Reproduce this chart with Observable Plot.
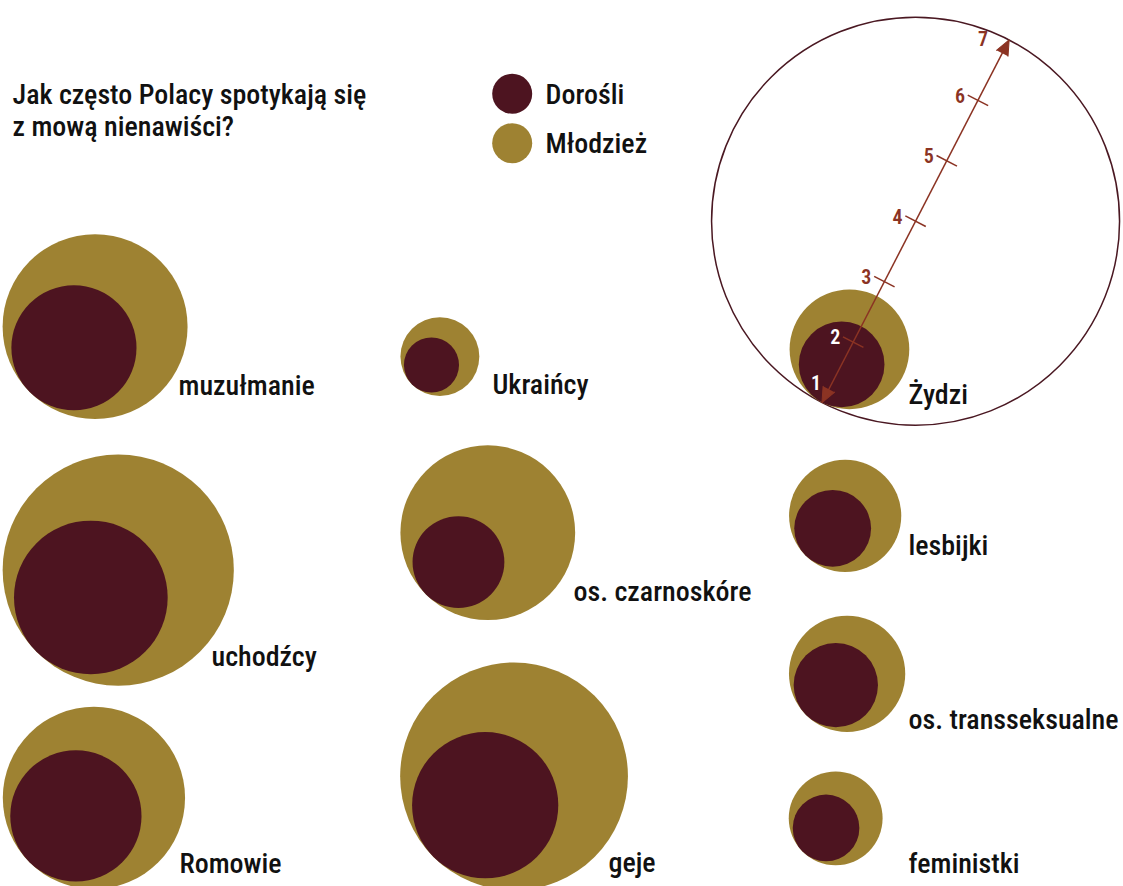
<!DOCTYPE html>
<html><head><meta charset="utf-8">
<script src="https://cdn.jsdelivr.net/npm/d3@7"></script>
<script src="https://cdn.jsdelivr.net/npm/@observablehq/plot@0.6"></script>
<style>
body{margin:0;background:#fff}
svg{display:block}
</style>
</head><body><div id="chart"></div>
<script>
// ---- data ----
const categories = ["muzułmanie","uchodźcy","Romowie","Ukraińcy","os. czarnoskóre","geje","Żydzi","lesbijki","os. transseksualne","feministki"];
const adults = [2.84, 3.26, 2.93, 1.81, 2.35, 3.15, 2.26, 2.13, 2.24, 1.98];
const youth  = [3.72, 4.40, 3.68, 2.16, 3.57, 4.35, 2.76, 2.65, 2.71, 2.38];
const series = ["Dorośli", "Młodzież"];
const scaleTicks = [1, 2, 3, 4, 5, 6, 7];
const titleLines = ["Jak często Polacy spotykają się", "z mową nienawiści?"];

// ---- layout (positions & styles) ----
const W = 1123, H = 886;
const FONT = "'Roboto Condensed', 'Liberation Sans Narrow', sans-serif";
const colors = ["#4d1420", "#9e8232"];
const arrowColor = "#8b3323";
const keyStroke = "#4a1822";
const keyAnchor = [821.5, 402];
const keyAngle = 62.7;
const layout = [
  {ax: 29.2, ay: 391.5, angle: 45, lx: 178, ly: 394},
  {ax: 36.0, ay: 651.3, angle: 45, lx: 211, ly: 665},
  {ax: 29.0, ay: 861.8, angle: 45, lx: 179, ly: 872},
  {ax: 411.5, ay: 384.0, angle: 45, lx: 492, ly: 393},
  {ax: 425.5, ay: 594.0, angle: 45, lx: 573, ly: 600},
  {ax: 433.0, ay: 856.4, angle: 45, lx: 608, ly: 871},
  {ax: keyAnchor[0], ay: keyAnchor[1], angle: keyAngle, lx: 908, ly: 403},
  {ax: 805.0, ay: 555.0, angle: 45, lx: 908, ly: 554},
  {ax: 805.5, ay: 714.4, angle: 45, lx: 908, ly: 728},
  {ax: 802.0, ay: 851.0, angle: 45, lx: 908, ly: 872}
];
const legendLayout = {x: 511.7, y0: 93.3, dy: 49.4, r: 20, tx: 545, tdy: 10};
const titleLayout = {x: 12, y0: 103.3, dy: 32};
const tickLabelOffset = {1: [-6, -19], 7: [-26, 0]};
const tickLabelDefault = [-18, -4];

// ---- scales ----
const rOpts = {type: "linear", domain: [1, 7], range: [0, 204]};
const rS = Plot.scale({r: rOpts});
const rad = v => rS.apply(v);
const toRad = a => a * Math.PI / 180;
function pos(L, dist) {
  const t = toRad(L.angle);
  return [L.ax + dist * Math.cos(t), L.ay - dist * Math.sin(t)];
}
const keyL = {ax: keyAnchor[0], ay: keyAnchor[1], angle: keyAngle};
const rows = categories.map((c, i) => ({cat: c, adult: adults[i], youth: youth[i], L: layout[i]}));
const legendRows = series.map((s, i) => ({s, i}));
const titleRows = titleLines.map((t, i) => ({t, i}));
const innerTicks = scaleTicks.filter(v => v > scaleTicks[0] && v < scaleTicks[scaleTicks.length - 1]);
const vMin = scaleTicks[0], vMax = scaleTicks[scaleTicks.length - 1];
const perp = toRad(keyAngle - 90);
const tickHalf = 11.5;

const chart = Plot.plot({
  width: W, height: H, margin: 0,
  x: {domain: [0, W], range: [0, W], axis: null},
  y: {domain: [0, H], range: [0, H], axis: null},
  r: rOpts,
  color: {domain: series, range: colors},
  style: {fontFamily: FONT, background: "#fff"},
  marks: [
    // key circle (value 7)
    Plot.dot([vMax], {x: v => pos(keyL, rad(v))[0], y: v => pos(keyL, rad(v))[1], r: v => v,
      fill: "none", stroke: keyStroke, strokeWidth: 1.5}),
    // youth
    Plot.dot(rows, {x: d => pos(d.L, rad(d.youth))[0], y: d => pos(d.L, rad(d.youth))[1], r: "youth",
      fill: () => series[1], sort: null}),
    // adults
    Plot.dot(rows, {x: d => pos(d.L, rad(d.adult))[0], y: d => pos(d.L, rad(d.adult))[1], r: "adult",
      fill: () => series[0], sort: null}),
    // category labels
    Plot.text(rows, {x: d => d.L.lx, y: d => d.L.ly, text: "cat", textAnchor: "start", lineAnchor: "bottom",
      fontSize: 28, fontWeight: 500, fill: "#111"}),
    // scale arrow
    Plot.link([vMin], {x1: () => pos(keyL, 2 * rad(vMin))[0], y1: () => pos(keyL, 2 * rad(vMin))[1],
      x2: () => pos(keyL, 2 * rad(vMax))[0], y2: () => pos(keyL, 2 * rad(vMax))[1],
      stroke: arrowColor, strokeWidth: 1.5}),
    Plot.link(innerTicks, {
      x1: v => pos(keyL, 2 * rad(v))[0] - tickHalf * Math.cos(perp),
      y1: v => pos(keyL, 2 * rad(v))[1] + tickHalf * Math.sin(perp),
      x2: v => pos(keyL, 2 * rad(v))[0] + tickHalf * Math.cos(perp),
      y2: v => pos(keyL, 2 * rad(v))[1] - tickHalf * Math.sin(perp),
      stroke: arrowColor, strokeWidth: 1.5}),
    Plot.vector([vMin, vMax], {
      x: v => pos(keyL, 2 * rad(v))[0], y: v => pos(keyL, 2 * rad(v))[1],
      rotate: v => v === vMax ? 90 - keyAngle : 270 - keyAngle,
      length: 15, r: 6.5, shape: "spike", anchor: "end",
      fill: arrowColor, stroke: arrowColor, strokeWidth: 1}),
    Plot.text(scaleTicks, {
      x: v => pos(keyL, 2 * rad(v))[0] + (tickLabelOffset[v] || tickLabelDefault)[0],
      y: v => pos(keyL, 2 * rad(v))[1] + (tickLabelOffset[v] || tickLabelDefault)[1],
      text: v => String(v), fontSize: 20, fontWeight: 600,
      fill: v => v <= 2 ? "#fff" : arrowColor}),
    // legend
    Plot.dot(legendRows, {x: () => legendLayout.x, y: d => legendLayout.y0 + d.i * legendLayout.dy,
      r: legendLayout.r, fill: d => d.s}),
    Plot.text(legendRows, {x: () => legendLayout.tx, y: d => legendLayout.y0 + d.i * legendLayout.dy + legendLayout.tdy,
      text: "s", textAnchor: "start", lineAnchor: "bottom", fontSize: 28, fontWeight: 500, fill: "#111"}),
    // title
    Plot.text(titleRows, {x: () => titleLayout.x, y: d => titleLayout.y0 + d.i * titleLayout.dy,
      text: "t", textAnchor: "start", lineAnchor: "bottom", fontSize: 28, fontWeight: 500, fill: "#111"})
  ]
});
document.getElementById("chart").appendChild(chart);
</script>
</body></html>
